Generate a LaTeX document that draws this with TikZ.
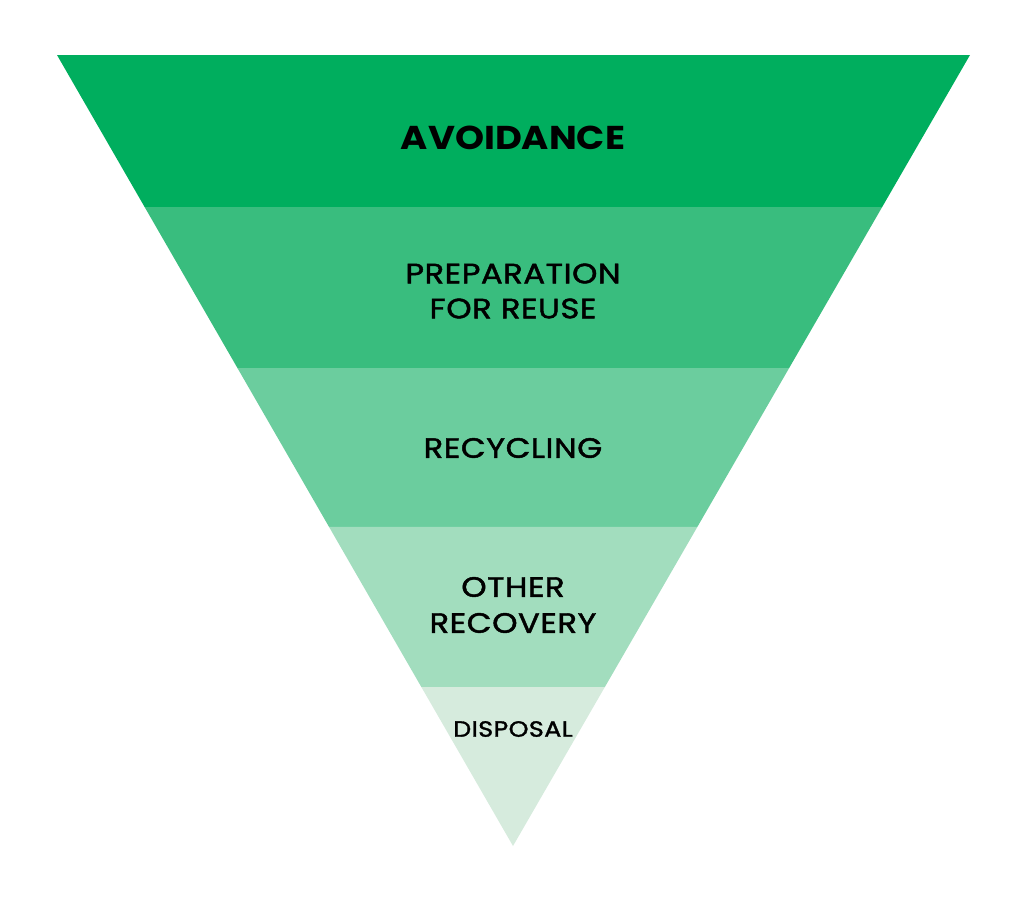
\documentclass[tikz,border=0pt]{standalone}
\usepackage{fontspec}
\setmainfont{Poppins}[FakeStretch=1.12]
\newfontfamily\medfont{Poppins}[FakeStretch=1.15, FakeBold=1.6, LetterSpace=2]
\usetikzlibrary{calc}
\definecolor{bandA}{RGB}{0,174,94}
\definecolor{bandB}{RGB}{57,189,126}
\definecolor{bandC}{RGB}{107,205,158}
\definecolor{bandD}{RGB}{162,221,190}
\definecolor{bandE}{RGB}{214,235,221}
\tikzset{
  band/.style={fill=#1, draw=none},
  label/.style={inner sep=0pt, align=center, text=black, anchor=center}
}
\begin{document}
\begin{tikzpicture}[x=1pt,y=-1pt]
\useasboundingbox (0,0) rectangle (1026,900);
\coordinate (tl) at (57,55);
\coordinate (tr) at (970,55);
\coordinate (ap) at (513,846);
\foreach \n/\t in {1/0.1922,2/0.3957,3/0.5967,4/0.799}{
  \coordinate (l\n) at ($(tl)!\t!(ap)$);
  \coordinate (r\n) at ($(tr)!\t!(ap)$);
}
\fill[band=bandA] (tl) -- (tr) -- (r1) -- (l1) -- cycle;
\fill[band=bandB] (l1) -- (r1) -- (r2) -- (l2) -- cycle;
\fill[band=bandC] (l2) -- (r2) -- (r3) -- (l3) -- cycle;
\fill[band=bandD] (l3) -- (r3) -- (r4) -- (l4) -- cycle;
\fill[band=bandE] (l4) -- (r4) -- (ap) -- cycle;
\node[label, font=\fontsize{33}{38}\selectfont\bfseries] (avoid) at (513,138) {AVOIDANCE};
\node[label, font=\fontsize{28}{35}\selectfont\medfont] (prep) at (513,291) {PREPARATION\\FOR REUSE};
\node[label, font=\fontsize{28}{35}\selectfont\medfont] (recy) at (513,448) {RECYCLING};
\node[label, font=\fontsize{28}{36}\selectfont\medfont] (other) at (513,605) {OTHER\\RECOVERY};
\node[label, font=\fontsize{22}{26}\selectfont\medfont] (disp) at (513,729) {DISPOSAL};
\end{tikzpicture}
\end{document}
